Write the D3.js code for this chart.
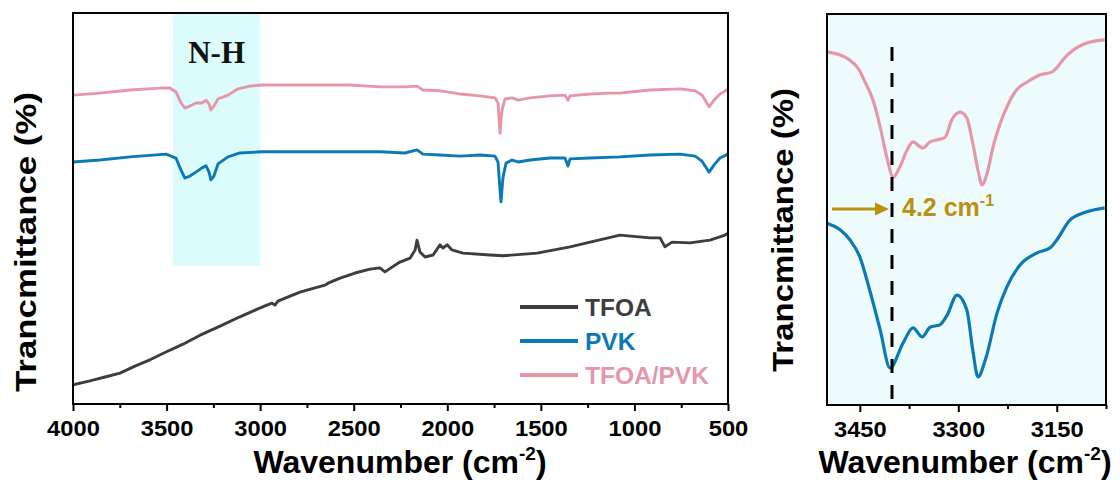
<!DOCTYPE html>
<html><head><meta charset="utf-8">
<script src="https://cdn.jsdelivr.net/npm/d3@7"></script>
<style>
body{margin:0;background:#fff;}
svg{display:block;font-family:"Liberation Sans",Arial,sans-serif;}
</style></head>
<body>
<svg id="chart" width="1120" height="481"></svg>
<script>
// ---------- data ----------
const seriesNames = ["TFOA", "PVK", "TFOA/PVK"];
const mainTicks = [4000, 3500, 3000, 2500, 2000, 1500, 1000, 500];
const mainMinorTicks = [3750, 3250, 2750, 2250, 1750, 1250, 750];
const zoomTicks = [3450, 3300, 3150];
const zoomMinorTicks = [3375, 3225, 3075];
const nhBand = [3465, 3000];
const shiftPosition = 3401;
const shiftLabel = "4.2 cm";

const tfoaWn = [4000,3909,3829,3749,3669,3589,3503,3412,3321,3214,3108,3027,2974,2937,2921,2905,2840,2787,2707,2653,2637,2573,2493,2413,2360,2333,2295,2253,2199,2172,2162,2146,2119,2076,2039,2023,2001,1975,1916,1772,1702,1520,1344,1237,1077,917,863,837,799,703,596,516,500];
const tfoaT  = [4.9,5.9,6.9,7.9,9.7,11.3,13.3,15.3,17.6,19.9,22.3,24.0,25.1,25.8,25.3,26.3,27.6,28.6,29.7,30.4,30.9,32.2,33.5,34.5,34.8,33.8,35.0,36.3,37.3,39.4,41.9,38.9,37.6,38.1,40.7,39.9,40.7,39.4,38.6,38.1,37.9,38.6,40.2,41.4,43.2,42.5,42.5,40.2,41.4,41.2,41.9,43.2,43.7];

const pvkWn = [4000,3856,3695,3503,3450,3423,3402,3375,3343,3311,3289,3273,3263,3247,3225,3172,3108,2995,2787,2520,2360,2226,2162,2130,2039,1932,1825,1745,1729,1720,1713,1706,1702,1686,1654,1622,1558,1451,1371,1355,1344,1237,1077,917,757,676,639,601,575,543,500];
const pvkT  = [61.9,62.4,63.2,63.9,62.9,59.8,57.8,58.3,59.3,60.4,60.9,59.3,57.3,58.3,61.4,63.2,64.2,64.5,64.5,64.5,64.5,64.2,65.0,63.9,63.7,63.4,63.7,63.4,61.9,56.0,51.7,56.0,58.0,61.6,62.4,61.9,62.4,62.9,62.9,60.9,62.7,62.9,63.2,63.7,63.9,63.4,62.1,59.3,61.1,62.9,63.9];

const mixWn = [4000,3856,3695,3535,3482,3450,3423,3402,3375,3343,3311,3289,3273,3263,3247,3225,3172,3118,3054,2995,2787,2520,2360,2226,2162,2130,2039,1932,1825,1745,1729,1722,1718,1714,1708,1692,1654,1622,1558,1451,1371,1355,1344,1237,1130,1077,1024,917,757,676,639,601,575,543,500];
const mixT  = [79.0,79.5,80.3,80.8,80.8,79.8,77.0,75.7,76.2,77.0,77.0,77.7,76.7,75.2,76.2,78.0,79.0,80.6,81.3,81.6,81.6,81.6,81.1,81.1,81.3,80.3,80.1,79.3,78.8,78.3,77.0,72.0,69.3,72.0,75.0,78.0,78.3,77.7,78.3,78.8,79.0,77.7,78.8,79.3,79.5,79.5,79.8,80.3,80.6,80.1,79.0,76.0,77.7,79.3,80.5];

const zoomPvkWn = [3500,3480,3465,3450,3435,3419,3404,3384,3369,3355,3343,3328,3317,3302,3287,3278,3270,3258,3241,3226,3206,3180,3160,3150,3130,3104,3077];
const zoomPvkT  = [46.5,44.8,42.2,37.9,29.4,19.2,9.5,15.9,19.7,17.4,19.9,20.5,23.0,28.1,24.3,14.1,7.2,12.0,23.5,30.2,35.8,38.9,40.2,42.2,47.3,49.4,50.4];

const zoomMixWn = [3500,3480,3465,3453,3442,3430,3419,3409,3399,3389,3378,3369,3358,3354,3343,3328,3320,3310,3297,3287,3278,3270,3264,3256,3247,3236,3226,3211,3195,3176,3157,3150,3141,3125,3104,3077];
const zoomMixT  = [90.3,89.5,88.2,86.2,82.6,78.0,71.1,63.4,58.3,60.9,65.2,67.3,66.0,65.7,67.3,68.0,68.5,72.9,74.9,73.4,67.0,60.1,56.3,59.3,66.0,72.1,76.2,80.6,82.6,84.4,85.2,86.2,88.2,90.8,92.6,93.4];

// ---------- styles ----------
const colors = {TFOA: "#3d3d3d", PVK: "#0b79b6", MIX: "#e597a8"};
const gold = "#b8920e";

const svg = d3.select("#chart");

// ---------- scales ----------
const L = {x0: 73, x1: 728, y0: 13, y1: 404};
const R = {x0: 827, x1: 1106, y0: 14, y1: 405};
const xL = d3.scaleLinear().domain([4000, 500]).range([L.x0, L.x1]);
const yL = d3.scaleLinear().domain([0, 100]).range([L.y1, L.y0]);
const xR = d3.scaleLinear().domain([3500, 3075]).range([R.x0, R.x1]);
const yR = d3.scaleLinear().domain([0, 100]).range([R.y1, R.y0]);

const defs = svg.append("defs");
defs.append("clipPath").attr("id", "clipL").append("rect")
  .attr("x", L.x0).attr("y", L.y0).attr("width", L.x1 - L.x0).attr("height", L.y1 - L.y0);
defs.append("clipPath").attr("id", "clipR").append("rect")
  .attr("x", R.x0).attr("y", R.y0).attr("width", R.x1 - R.x0).attr("height", R.y1 - R.y0);

// ---------- left panel ----------
svg.append("rect").attr("x", xL(nhBand[0])).attr("y", L.y0)
  .attr("width", xL(nhBand[1]) - xL(nhBand[0])).attr("height", 266 - L.y0)
  .attr("fill", "#dbfbfc");

const lineL = d3.line().x(d => xL(d[0])).y(d => yL(d[1]));
const gL = svg.append("g").attr("clip-path", "url(#clipL)");
[[tfoaWn, tfoaT, colors.TFOA], [pvkWn, pvkT, colors.PVK], [mixWn, mixT, colors.MIX]].forEach(([w, t, c]) => {
  gL.append("path").datum(w.map((v, i) => [v, t[i]]))
    .attr("d", lineL).attr("fill", "none").attr("stroke", c)
    .attr("stroke-width", 2.9).attr("stroke-linejoin", "round");
});

svg.append("text").attr("x", (xL(nhBand[0]) + xL(nhBand[1])) / 2).attr("y", 63)
  .attr("text-anchor", "middle").attr("font-family", "'Liberation Serif','Times New Roman',serif")
  .attr("font-weight", "bold").attr("font-size", 31).attr("fill", "#111").text("N-H");

// axis
const axL = svg.append("g").attr("transform", `translate(0,${L.y1})`)
  .call(d3.axisBottom(xL).tickValues(mainTicks).tickSize(7).tickPadding(9).tickFormat(d3.format("d")));
const axLm = svg.append("g").attr("transform", `translate(0,${L.y1})`)
  .call(d3.axisBottom(xL).tickValues(mainMinorTicks).tickSize(4).tickFormat(""));
[axL, axLm].forEach(a => { a.select(".domain").remove(); a.selectAll("line").attr("stroke", "#000").attr("stroke-width", 2); });
axL.selectAll("text").attr("font-size", 22).attr("font-weight", "bold").attr("fill", "#000")
  .attr("font-family", "'Liberation Sans',Arial,sans-serif")
  .attr("textLength", d => String(d).length * 13.2).attr("lengthAdjust", "spacingAndGlyphs");

svg.append("rect").attr("x", L.x0).attr("y", L.y0).attr("width", L.x1 - L.x0).attr("height", L.y1 - L.y0)
  .attr("fill", "none").attr("stroke", "#000").attr("stroke-width", 2);

// legend
const legColors = [colors.TFOA, colors.PVK, colors.MIX];
const leg = svg.append("g");
seriesNames.forEach((n, i) => {
  const y = 307 + i * 34;
  leg.append("line").attr("x1", 520).attr("x2", 578).attr("y1", y).attr("y2", y)
    .attr("stroke", legColors[i]).attr("stroke-width", 3.8);
  leg.append("text").attr("x", 585).attr("y", y + 8.5).attr("font-size", 24.5).attr("font-weight", "bold")
    .attr("fill", legColors[i]).text(n);
});

// titles
function xTitle(cx) {
  const t = svg.append("text").attr("x", cx).attr("y", 473).attr("text-anchor", "middle")
    .attr("font-size", 32).attr("font-weight", "bold").attr("fill", "#000");
  t.append("tspan").text("Wavenumber (cm");
  t.append("tspan").attr("font-size", 19).attr("dy", -13).text("-2");
  t.append("tspan").attr("dy", 13).text(")");
}
xTitle(400);
xTitle(965);

svg.append("text").attr("transform", "translate(36,242) rotate(-90)").attr("text-anchor", "middle")
  .attr("font-size", 30).attr("font-weight", "bold").attr("fill", "#000")
  .attr("textLength", 300).attr("lengthAdjust", "spacingAndGlyphs").text("Trancmittance (%)");

// ---------- right panel ----------
svg.append("rect").attr("x", R.x0).attr("y", R.y0).attr("width", R.x1 - R.x0).attr("height", R.y1 - R.y0)
  .attr("fill", "#eefbfc");

const lineR = d3.line().x(d => xR(d[0])).y(d => yR(d[1])).curve(d3.curveMonotoneX);
const gR = svg.append("g").attr("clip-path", "url(#clipR)");
[[zoomPvkWn, zoomPvkT, colors.PVK], [zoomMixWn, zoomMixT, colors.MIX]].forEach(([w, t, c]) => {
  gR.append("path").datum(w.map((v, i) => [v, t[i]]))
    .attr("d", lineR).attr("fill", "none").attr("stroke", c).attr("stroke-width", 3.2)
    .attr("stroke-linejoin", "round");
});

svg.append("line").attr("x1", xR(shiftPosition)).attr("x2", xR(shiftPosition))
  .attr("y1", 47).attr("y2", R.y1).attr("stroke", "#000").attr("stroke-width", 3)
  .attr("stroke-dasharray", "14,12");

// arrow
svg.append("line").attr("x1", R.x0 + 5).attr("x2", xR(shiftPosition) - 14).attr("y1", 209).attr("y2", 209)
  .attr("stroke", gold).attr("stroke-width", 3);
svg.append("path").attr("d", d3.line()([[xR(shiftPosition) - 17, 202.5], [xR(shiftPosition) - 3, 209], [xR(shiftPosition) - 17, 215.5]]) + "Z")
  .attr("fill", gold);
const st = svg.append("text").attr("x", xR(shiftPosition) + 10).attr("y", 216)
  .attr("font-size", 25).attr("font-weight", "bold").attr("fill", gold);
st.append("tspan").text(shiftLabel);
st.append("tspan").attr("font-size", 16).attr("dy", -10).text("-1");

const axR = svg.append("g").attr("transform", `translate(0,${R.y1})`)
  .call(d3.axisBottom(xR).tickValues(zoomTicks).tickSize(7).tickPadding(9).tickFormat(d3.format("d")));
const axRm = svg.append("g").attr("transform", `translate(0,${R.y1})`)
  .call(d3.axisBottom(xR).tickValues(zoomMinorTicks).tickSize(4).tickFormat(""));
[axR, axRm].forEach(a => { a.select(".domain").remove(); a.selectAll("line").attr("stroke", "#000").attr("stroke-width", 2); });
axR.selectAll("text").attr("font-size", 22).attr("font-weight", "bold").attr("fill", "#000")
  .attr("font-family", "'Liberation Sans',Arial,sans-serif")
  .attr("textLength", d => String(d).length * 13.2).attr("lengthAdjust", "spacingAndGlyphs");

svg.append("rect").attr("x", R.x0).attr("y", R.y0).attr("width", R.x1 - R.x0).attr("height", R.y1 - R.y0)
  .attr("fill", "none").attr("stroke", "#000").attr("stroke-width", 2);

svg.append("text").attr("transform", "translate(793,230) rotate(-90)").attr("text-anchor", "middle")
  .attr("font-size", 30).attr("font-weight", "bold").attr("fill", "#000")
  .attr("textLength", 284).attr("lengthAdjust", "spacingAndGlyphs").text("Trancmittance (%)");
</script>
</body></html>
